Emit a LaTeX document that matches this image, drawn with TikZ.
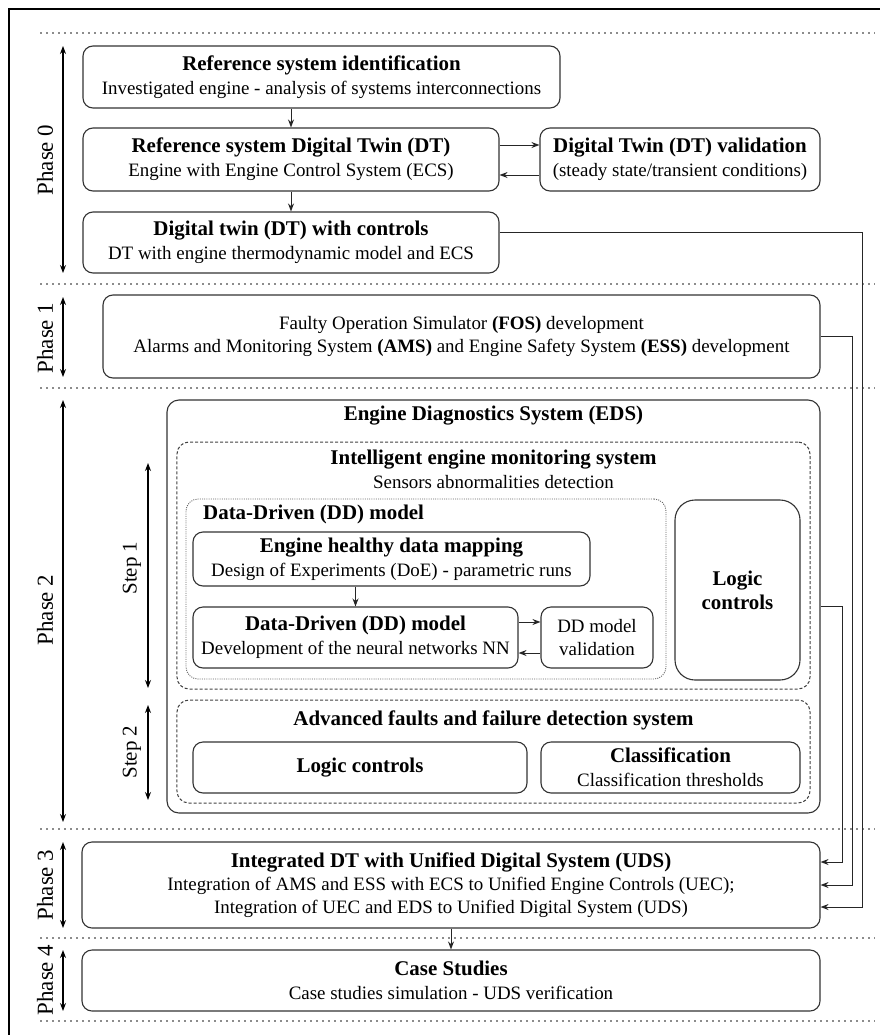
\documentclass[tikz,border=0pt]{standalone}
\usepackage{fontspec}
\setmainfont{Liberation Serif}
\usepackage{tikz}
\usetikzlibrary{arrows.meta}

\newcommand{\ttl}[1]{{\fontsize{21}{25}\selectfont\bfseries #1}}

\begin{document}
\begin{tikzpicture}[
  x=1bp, y=-1bp,
  font=\fontsize{19}{24}\selectfont,
  box/.style={draw=black!80, line width=1.1bp, rounded corners=10bp, align=center, inner sep=0pt},
  frame/.style={draw=black!80, line width=1.1bp, rounded corners=12bp, inner sep=0pt},
  dashbox/.style={draw=black!75, line width=1bp, dash pattern=on 3bp off 2bp, rounded corners=12bp, inner sep=0pt},
  dotbox/.style={draw=black!60, line width=0.9bp, dash pattern=on 1bp off 1.2bp, rounded corners=12bp, inner sep=0pt},
  sep/.style={draw=black!45, line width=2bp, dash pattern=on 1.6bp off 4.4bp},
  conn/.style={-{Stealth[length=8bp,width=6bp]}, line width=1bp, black!85},
  span/.style={{Stealth[length=8bp,width=6bp]}-{Stealth[length=8bp,width=6bp]}, line width=1.1bp},
  phase/.style={rotate=90, font=\fontsize{23}{27}\selectfont},
  steplbl/.style={rotate=90, font=\fontsize{21}{25}\selectfont},
]
\useasboundingbox (0,0) rectangle (880,1035);

% ---------- frame and phase separators ----------
\draw[line width=2.5bp] (9,1035) -- (9,9) -- (880,9);
\foreach \ys in {33,284,388,829,938,1021}
  \draw[sep] (40,\ys) -- (875,\ys);

% ---------- phase / step spans ----------
\def\xP{63}   % phase arrows
\def\xS{148}  % step arrows
\draw[span] (\xP,46)  -- (\xP,273);
\draw[span] (\xP,297) -- (\xP,377);
\draw[span] (\xP,400) -- (\xP,822);
\draw[span] (\xP,842) -- (\xP,928);
\draw[span] (\xP,950) -- (\xP,1011);
\node[phase] (ph0) at (45,160) {Phase 0};
\node[phase] (ph1) at (45,338) {Phase 1};
\node[phase] (ph2) at (45,610) {Phase 2};
\node[phase] (ph3) at (45,885) {Phase 3};
\node[phase] (ph4) at (45,980) {Phase 4};

\draw[span] (\xS,463) -- (\xS,688);
\draw[span] (\xS,705) -- (\xS,800);
\node[steplbl] (st1) at (132,568) {Step 1};
\node[steplbl] (st2) at (132,752) {Step 2};

% =====================================================
% PHASE 0 : reference system and its digital twin
% =====================================================
\node[box, minimum width=477bp, minimum height=62bp] (refid) at (321.5,77)
  {\ttl{Reference system identification}\\Investigated engine - analysis of systems interconnections};
\node[box, minimum width=416bp, minimum height=63bp] (refdt) at (291,159.5)
  {\ttl{Reference system Digital Twin (DT)}\\Engine with Engine Control System (ECS)};
\node[box, minimum width=280bp, minimum height=63bp] (dtval) at (680,159.5)
  {\ttl{Digital Twin (DT) validation}\\(steady state/transient conditions)};
\node[box, minimum width=416bp, minimum height=61bp] (dtctrl) at (291,242.5)
  {\ttl{Digital twin (DT) with controls}\\DT with engine thermodynamic model and ECS};

\draw[conn] (refid.south -| refdt.north) -- (refdt.north);
\draw[conn] (refdt.south) -- (dtctrl.north);
\draw[conn] (refdt.east |- 0,145) -- (dtval.west |- 0,145);
\draw[conn] (dtval.west |- 0,175) -- (refdt.east |- 0,175);

% =====================================================
% PHASE 1 : FOS, AMS and ESS
% =====================================================
\node[box, minimum width=717bp, minimum height=83bp] (fos) at (461.5,336.5)
  {Faulty Operation Simulator \textbf{(FOS)} development\\
   Alarms and Monitoring System \textbf{(AMS)} and Engine Safety System \textbf{(ESS)} development};

% =====================================================
% PHASE 2 : engine diagnostics system
% =====================================================
\node[frame, minimum width=653bp, minimum height=413bp] (eds) at (493.5,606.5) {};
\node (edstitle) at (493.5,416) {\ttl{Engine Diagnostics System (EDS)}};

% step 1 : monitoring
\node[dashbox, minimum width=633bp, minimum height=247bp] (iems) at (493.5,565.5) {};
\node[align=center] (iemstitle) at (493.5,469)
  {\ttl{Intelligent engine monitoring system}\\Sensors abnormalities detection};

\node[dotbox, minimum width=480bp, minimum height=180bp] (ddbox) at (426,589) {};
\node[anchor=west, inner sep=0pt] (ddlabel) at (203,514) {\ttl{Data-Driven (DD) model}};

\node[box, minimum width=397bp, minimum height=54bp] (map) at (391.5,559)
  {\ttl{Engine healthy data mapping}\\Design of Experiments (DoE) - parametric runs};
\node[box, minimum width=325bp, minimum height=61bp] (ddmodel) at (355.5,637.5)
  {\ttl{Data-Driven (DD) model}\\Development of the neural networks NN};
\node[box, minimum width=112bp, minimum height=61bp] (ddval) at (597,637.5)
  {DD model\\validation};
\node[box, rounded corners=20bp, minimum width=125bp, minimum height=180bp] (logic1) at (737.5,590)
  {\ttl{Logic}\\\ttl{controls}};

\draw[conn] (map.south -| ddmodel.north) -- (ddmodel.north);
\draw[conn] (ddmodel.east |- 0,622) -- (ddval.west |- 0,622);
\draw[conn] (ddval.west |- 0,653) -- (ddmodel.east |- 0,653);

% step 2 : faults detection
\node[dashbox, minimum width=633bp, minimum height=103bp] (afds) at (493.5,751.5) {};
\node (afdstitle) at (493.5,720) {\ttl{Advanced faults and failure detection system}};
\node[box, minimum width=334bp, minimum height=51bp] (logic2) at (360,767.5)
  {\ttl{Logic controls}};
\node[box, minimum width=259bp, minimum height=51bp] (classif) at (670.5,767.5)
  {\ttl{Classification}\\Classification thresholds};

% =====================================================
% PHASE 3 + 4 : integration and case studies
% =====================================================
\node[box, font=\fontsize{19}{23}\selectfont, minimum width=738bp, minimum height=86bp] (uds) at (451,885)
  {\ttl{Integrated DT with Unified Digital System (UDS)}\\
   Integration of AMS and ESS with ECS to Unified Engine Controls (UEC);\\
   Integration of UEC and EDS to Unified Digital System (UDS)};
\node[box, minimum width=738bp, minimum height=61bp] (case) at (451,980.5)
  {\ttl{Case Studies}\\Case studies simulation - UDS verification};

\draw[conn] (uds.south) -- (case.north);

% feeds into the UDS box on the right
\draw[conn] (eds.east) -- (842,606.5) |- (uds.east |- 0,862);
\draw[conn] (fos.east) -- (852,336.5) |- (uds.east |- 0,885);
\draw[conn] (dtctrl.east |- 0,232) -- (862,232) |- (uds.east |- 0,907);

\end{tikzpicture}
\end{document}
